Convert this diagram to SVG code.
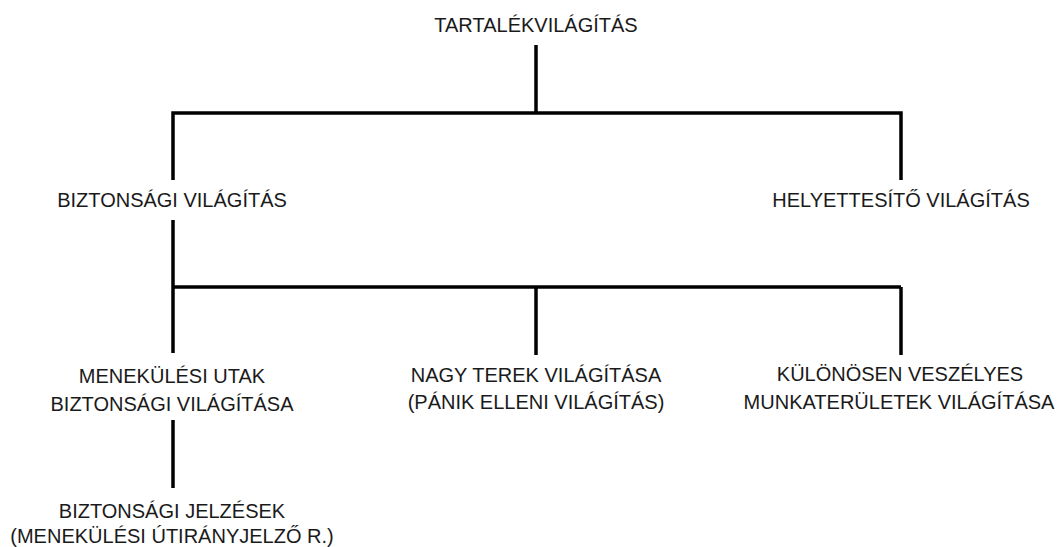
<svg xmlns="http://www.w3.org/2000/svg" width="1061" height="547" viewBox="0 0 1061 547">
<style>
text{font-family:"Liberation Sans",Arial,sans-serif;font-size:20px;fill:#1a1a1a;text-anchor:middle}
.c{fill:none;stroke:#000;stroke-width:3.5;stroke-linecap:butt;stroke-linejoin:miter}
</style>
<rect width="1061" height="547" fill="#fff"/>
<g id="connectors">
<line class="c" x1="536" y1="45" x2="536" y2="113"/>
<polyline class="c" points="173,180 173,113 901,113 901,180"/>
<line class="c" x1="173" y1="220" x2="173" y2="353"/>
<line class="c" x1="173" y1="287" x2="901" y2="287"/>
<line class="c" x1="536" y1="287" x2="536" y2="355"/>
<line class="c" x1="901" y1="287" x2="901" y2="355"/>
<line class="c" x1="173" y1="420" x2="173" y2="488"/>
</g>
<g id="n-root"><text x="536" y="32">TARTALÉKVILÁGÍTÁS</text></g>
<g id="n-bizt"><text x="172" y="207">BIZTONSÁGI VILÁGÍTÁS</text></g>
<g id="n-hely"><text x="901" y="207">HELYETTESÍTŐ VILÁGÍTÁS</text></g>
<g id="n-menek"><text x="172" y="383">MENEKÜLÉSI UTAK</text><text x="172" y="411">BIZTONSÁGI VILÁGÍTÁSA</text></g>
<g id="n-nagy"><text x="536" y="382">NAGY TEREK VILÁGÍTÁSA</text><text x="536" y="409">(PÁNIK ELLENI VILÁGÍTÁS)</text></g>
<g id="n-kulon"><text x="900" y="381">KÜLÖNÖSEN VESZÉLYES</text><text x="899" y="409">MUNKATERÜLETEK VILÁGÍTÁSA</text></g>
<g id="n-jelz"><text x="172" y="518">BIZTONSÁGI JELZÉSEK</text><text x="172" y="543">(MENEKÜLÉSI ÚTIRÁNYJELZŐ R.)</text></g>
</svg>
